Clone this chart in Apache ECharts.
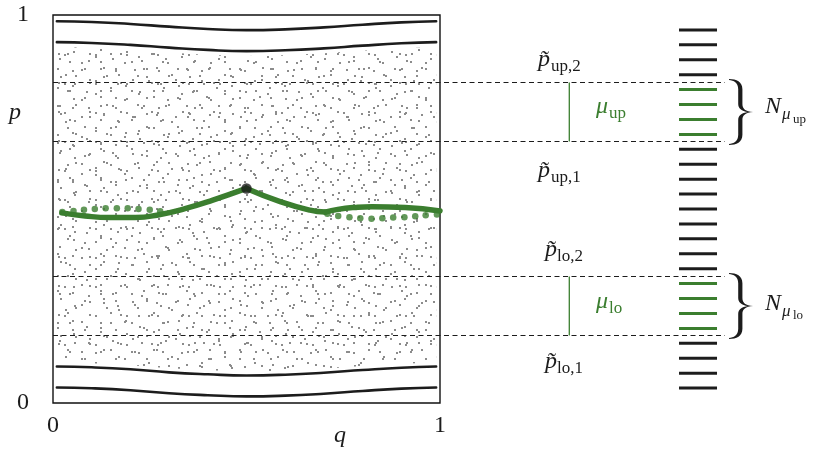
<!DOCTYPE html>
<html>
<head>
<meta charset="utf-8">
<script src="https://cdn.jsdelivr.net/npm/echarts@6/dist/echarts.min.js"></script>
<style>
  html, body { margin: 0; padding: 0; background: #ffffff; }
  #chart { width: 818px; height: 455px; }
</style>
</head>
<body>
<div id="chart"></div>
<script>
// Poincaré section of a twist map: two pairs of invariant circles enclose a
// chaotic sea; a saddle orbit (solid) and a periodic chain (dots) sit in the
// middle. The right-hand column shows the quantised action levels, with the
// ones falling inside the two action windows highlighted.

// ---- axes ----
const qTicks = [0, 1];
const pTicks = [0, 1];

// ---- invariant circles (q, p) ----
const circleQ       = [0.01, 0.10, 0.20, 0.30, 0.40, 0.50, 0.60, 0.70, 0.80, 0.90, 0.99];
const topOuterP     = [0.984, 0.982, 0.977, 0.970, 0.964, 0.961, 0.963, 0.968, 0.975, 0.981, 0.984];
const topInnerP     = [0.930, 0.928, 0.923, 0.916, 0.910, 0.907, 0.909, 0.914, 0.921, 0.927, 0.930];
const bottomInnerP  = [0.094, 0.092, 0.087, 0.079, 0.074, 0.071, 0.073, 0.078, 0.085, 0.091, 0.094];
const bottomOuterP  = [0.040, 0.038, 0.033, 0.025, 0.020, 0.017, 0.019, 0.024, 0.031, 0.037, 0.040];

// ---- unstable orbit branches (q, p) ----
const orbitLeft  = [[0.023, 0.490], [0.083, 0.482], [0.147, 0.478], [0.212, 0.478], [0.277, 0.486], [0.341, 0.501], [0.413, 0.523], [0.500, 0.553]];
const orbitMid   = [[0.500, 0.553], [0.587, 0.519], [0.664, 0.497], [0.703, 0.492]];
const orbitRight = [[0.703, 0.492], [0.736, 0.499], [0.780, 0.504], [0.824, 0.506], [0.910, 0.504], [1.000, 0.495]];
const saddlePoint = [[0.500, 0.553]];

// ---- periodic chain points ----
const chainLeftQ  = [0.024, 0.053, 0.080, 0.108, 0.136, 0.165, 0.193, 0.221, 0.250, 0.277];
const chainLeftP  = [0.492, 0.495, 0.498, 0.500, 0.502, 0.502, 0.502, 0.500, 0.498, 0.494];
const chainRightQ = [0.709, 0.737, 0.766, 0.794, 0.823, 0.851, 0.879, 0.908, 0.936, 0.963, 0.992];
const chainRightP = [0.488, 0.482, 0.479, 0.476, 0.475, 0.476, 0.478, 0.479, 0.481, 0.484, 0.486];

// ---- action windows [p1, p2] and quantised levels ----
const windowUp = [0.675, 0.825];
const windowLo = [0.175, 0.325];
const levels = [0.0385, 0.0769, 0.1154, 0.1538, 0.1923, 0.2308, 0.2692, 0.3077, 0.3462,
                0.3846, 0.4231, 0.4615, 0.5000, 0.5385, 0.5769, 0.6154, 0.6538, 0.6923,
                0.7308, 0.7692, 0.8077, 0.8462, 0.8846, 0.9231, 0.9615];

// ---- styling ----
const INK = '#1c1c1c';
const GREEN = '#3b7e2f';
const SERIF = '"Liberation Serif", "DejaVu Serif", serif';
// horizontal positions in the wide (annotation) coordinate system, 1 unit = box width
const WIDE_MAX = 1.9;
const LAYOUT = {
  ruleEnd: 1.7364, markerQ: 1.3341,
  barFrom: 1.6176, barTo: 1.7158,
  braceFrom: 1.7468, braceTo: 1.8088, braceOverhang: 0.01,
  seaGapTop: 5, seaGapBottom: 4
};
const BRACE_PATH = 'M0,0.4 C7.5,0.4 13.4,3 13.4,10.5 L13.4,25 C13.4,30 16.5,32.3 24,33 ' +
  'C16.5,33.7 13.4,36 13.4,41 L13.4,55.5 C13.4,63 7.5,65.6 0,65.6 L0,64.6 ' +
  'C4.6,64.3 9.2,62 9.2,55.5 L9.2,41 C9.2,36.5 12.5,34 19,33 C12.5,32 9.2,29.5 9.2,25 ' +
  'L9.2,10.5 C9.2,4 4.6,1.7 0,1.4 Z';

// stipple textures for the chaotic region (three tiles with coprime periods)
function stippleTile(w, h, pts) {
  const c = document.createElement('canvas');
  c.width = w; c.height = h;
  const ctx = c.getContext('2d');
  ctx.fillStyle = '#8c8c8c';
  pts.forEach(function (pt) { ctx.fillRect(pt[0], pt[1], 2, 2); });
  return { image: c, repeat: 'repeat' };
}
const stipples = [
  stippleTile(43, 37, [[3,5],[17,2],[31,9],[9,19],[24,16],[38,25],[14,31],[29,33]]),
  stippleTile(53, 47, [[6,11],[20,4],[35,13],[47,2],[12,27],[28,22],[42,33],[4,40],[19,38],[33,44],[50,20]]),
  stippleTile(31, 29, [[7,3],[22,10],[13,17],[27,24],[2,25]])
];

const inWindow = function (p) {
  return (p > windowUp[0] && p < windowUp[1]) || (p > windowLo[0] && p < windowLo[1]);
};

function txt(x, base, text, size, italic, color, align) {
  return {
    type: 'text', x: x, y: base - 0.34 * size, silent: true, z: 20,
    style: {
      text: text,
      font: (italic ? 'italic ' : '') + size + 'px ' + SERIF,
      fill: color || INK,
      textAlign: align || 'left', textVerticalAlign: 'middle'
    }
  };
}

const chart = echarts.init(document.getElementById('chart'), null, { renderer: 'canvas' });

const lineOf = function (pts, width, color, z) {
  return {
    type: 'line', xAxisIndex: 0, yAxisIndex: 0, data: pts, smooth: true,
    showSymbol: false, symbol: 'none', silent: true, z: z,
    lineStyle: { width: width, color: color, cap: 'round' }
  };
};
const zipQP = function (qs, ps) { return qs.map(function (q, i) { return [q, ps[i]]; }); };

const option = {
  animation: false,
  backgroundColor: '#ffffff',
  grid: [
    { left: 53, top: 15, width: 387, height: 388, show: true,
      borderColor: '#111111', borderWidth: 1.4, backgroundColor: 'transparent' },
    { left: 53, top: 15, width: 387 * WIDE_MAX, height: 388, show: false }
  ],
  xAxis: [
    { gridIndex: 0, type: 'value', min: 0, max: 1, interval: 1,
      axisLine: { show: false }, axisTick: { show: false }, splitLine: { show: false },
      axisLabel: { margin: 23, verticalAlign: 'middle', fontSize: 24, fontFamily: SERIF, color: INK,
        formatter: function (v) { return qTicks.indexOf(v) >= 0 ? String(v) : ''; } } },
    { gridIndex: 1, type: 'value', min: 0, max: WIDE_MAX, show: false }
  ],
  yAxis: [
    { gridIndex: 0, type: 'value', min: 0, max: 1, interval: 1,
      axisLine: { show: false }, axisTick: { show: false }, splitLine: { show: false },
      axisLabel: { margin: 24, fontSize: 24, fontFamily: SERIF, color: INK,
        formatter: function (v) { return pTicks.indexOf(v) >= 0 ? String(v) : ''; } } },
    { gridIndex: 1, type: 'value', min: 0, max: 1, show: false }
  ],
  series: [
    // chaotic sea
    {
      type: 'custom', xAxisIndex: 0, yAxisIndex: 0, data: [0], silent: true, z: 1,
      renderItem: function (params, api) {
        const upper = circleQ.map(function (q, i) {
          const c = api.coord([q, topInnerP[i]]); return [c[0], c[1] + LAYOUT.seaGapTop];
        });
        const lower = circleQ.map(function (q, i) {
          const c = api.coord([q, bottomInnerP[i]]); return [c[0], c[1] - LAYOUT.seaGapBottom];
        }).reverse();
        const poly = upper.concat(lower);
        return {
          type: 'group',
          children: stipples.map(function (pat) {
            return { type: 'polygon', shape: { points: poly }, style: { fill: pat, stroke: null } };
          })
        };
      }
    },
    // window boundaries (dashed) and window markers
    {
      type: 'custom', xAxisIndex: 1, yAxisIndex: 1, silent: true, z: 2,
      data: [[windowUp[0], windowUp[1]], [windowLo[0], windowLo[1]]],
      renderItem: function (params, api) {
        const p1 = api.value(0), p2 = api.value(1);
        const snap = function (v) { return Math.round(v - 0.5) + 0.5; };
        const rule = function (p) {
          const a = api.coord([0, p]), b = api.coord([LAYOUT.ruleEnd, p]);
          const y = snap(a[1]);
          return { type: 'line', shape: { x1: a[0], y1: y, x2: b[0], y2: y },
            style: { stroke: INK, lineWidth: 1, lineDash: [5, 3.5] } };
        };
        const m1 = api.coord([LAYOUT.markerQ, p1]), m2 = api.coord([LAYOUT.markerQ, p2]);
        return {
          type: 'group',
          children: [
            rule(p1), rule(p2),
            { type: 'line', shape: { x1: m1[0], y1: snap(m1[1]), x2: m2[0], y2: snap(m2[1]) },
              style: { stroke: GREEN, lineWidth: 1.3 } }
          ]
        };
      }
    },
    // quantised levels
    {
      type: 'custom', xAxisIndex: 1, yAxisIndex: 1, silent: true, z: 3,
      data: levels.map(function (p) { return [p]; }),
      renderItem: function (params, api) {
        const p = api.value(0);
        const a = api.coord([LAYOUT.barFrom, p]), b = api.coord([LAYOUT.barTo, p]);
        return { type: 'line', shape: { x1: a[0], y1: a[1], x2: b[0], y2: b[1] },
          style: { stroke: inWindow(p) ? GREEN : INK, lineWidth: 3 } };
      }
    },
    // braces grouping the highlighted levels
    {
      type: 'custom', xAxisIndex: 1, yAxisIndex: 1, silent: true, z: 3,
      data: [[windowUp[0], windowUp[1]], [windowLo[0], windowLo[1]]],
      renderItem: function (params, api) {
        const tl = api.coord([LAYOUT.braceFrom, api.value(1) + LAYOUT.braceOverhang]);
        const br = api.coord([LAYOUT.braceTo, api.value(0) - LAYOUT.braceOverhang]);
        return { type: 'path',
          shape: { pathData: BRACE_PATH, x: tl[0], y: tl[1], width: br[0] - tl[0], height: br[1] - tl[1], layout: 'cover' },
          style: { fill: INK, stroke: null } };
      }
    },
    // invariant circles
    lineOf(zipQP(circleQ, topOuterP), 2.6, INK, 4),
    lineOf(zipQP(circleQ, topInnerP), 2.6, INK, 4),
    lineOf(zipQP(circleQ, bottomInnerP), 2.6, INK, 4),
    lineOf(zipQP(circleQ, bottomOuterP), 2.6, INK, 4),
    // unstable orbit
    lineOf(orbitLeft, 5.5, GREEN, 5),
    lineOf(orbitMid, 5.5, GREEN, 5),
    lineOf(orbitRight, 5.5, GREEN, 5),
    // periodic chain
    {
      type: 'scatter', xAxisIndex: 0, yAxisIndex: 0, silent: true, z: 6,
      data: zipQP(chainLeftQ, chainLeftP).concat(zipQP(chainRightQ, chainRightP)),
      symbol: 'circle', symbolSize: 6.5, itemStyle: { color: GREEN }
    },
    // saddle point
    {
      type: 'scatter', xAxisIndex: 0, yAxisIndex: 0, silent: true, z: 7,
      data: saddlePoint, symbol: 'circle', symbolSize: 10.5, itemStyle: { color: INK }
    }
  ],
  graphic: {
    elements: [
      txt(15, 121, 'p', 24, true, INK, 'center'),
      txt(340, 444, 'q', 24, true, INK, 'center'),

      txt(538, 68, 'p\u0303', 24, true), txt(551, 72, 'up,2', 17),
      txt(538, 179, 'p\u0303', 24, true), txt(551, 183, 'up,1', 17),
      txt(545, 258, 'p\u0303', 24, true), txt(557, 262, 'lo,2', 17),
      txt(545, 370, 'p\u0303', 24, true), txt(557, 374, 'lo,1', 17),

      txt(596, 115, '\u03bc', 24, true, GREEN), txt(609, 119, 'up', 17, false, GREEN),
      txt(596, 310, '\u03bc', 24, true, GREEN), txt(609, 314, 'lo', 17, false, GREEN),

      txt(765, 115, 'N', 24, true), txt(782, 120, '\u03bc', 17, true), txt(793, 124, 'up', 13),
      txt(765, 312, 'N', 24, true), txt(782, 317, '\u03bc', 17, true), txt(793, 320, 'lo', 13)
    ]
  }
};

chart.setOption(option);
</script>
</body>
</html>
